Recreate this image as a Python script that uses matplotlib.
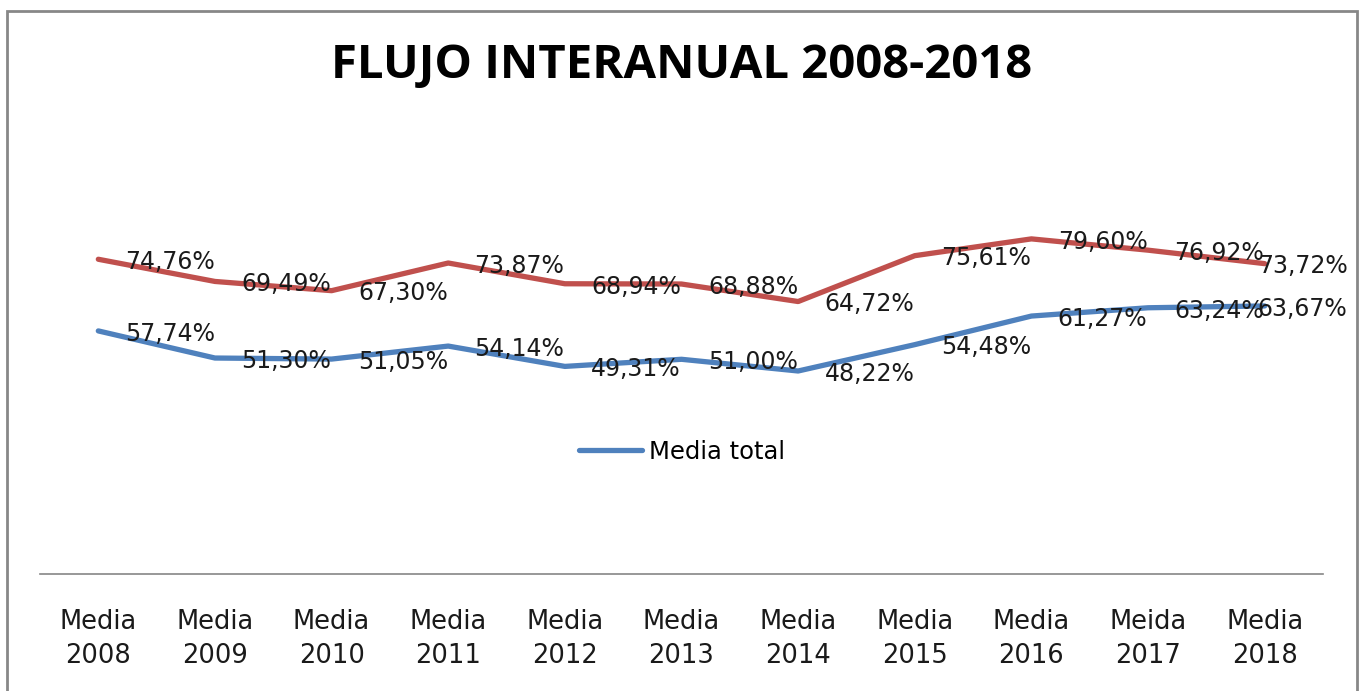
import numpy as np
from matplotlib import pyplot as plt
import matplotlib.patches as patches

# data
categorias = ["Media\n2008", "Media\n2009", "Media\n2010", "Media\n2011", "Media\n2012",
              "Media\n2013", "Media\n2014", "Media\n2015", "Media\n2016", "Meida\n2017",
              "Media\n2018"]
serie_roja = [74.76, 69.49, 67.30, 73.87, 68.94, 68.88, 64.72, 75.61, 79.60, 76.92, 73.72]
media_total = [57.74, 51.30, 51.05, 54.14, 49.31, 51.00, 48.22, 54.48, 61.27, 63.24, 63.67]

rojo = "#C0504D"
azul = "#4F81BD"

fig = plt.figure(figsize=(13.64, 6.91), dpi=100)
ax = fig.add_axes([40/1364, 1 - 574/691, (1323 - 40)/1364, (574 - 153)/691])

x = np.arange(len(categorias))
ax.plot(x, serie_roja, color=rojo, linewidth=3.8, solid_capstyle="round")
lin_azul, = ax.plot(x, media_total, color=azul, linewidth=3.8, solid_capstyle="round",
                    label="Media total")

def etiquetas(valores):
    for i, v in enumerate(valores):
        dx = 19 if i < len(valores) - 1 else -5
        txt = ("%.2f%%" % v).replace(".", ",")
        ax.annotate(txt, (x[i], v), xytext=(dx, -2), textcoords="offset points",
                    ha="left", va="center", fontsize=17, color="#1a1a1a",
                    annotation_clip=False)

etiquetas(serie_roja)
etiquetas(media_total)

ax.set_xlim(-0.5, len(categorias) - 0.5)
ax.set_ylim(0, 100)
ax.set_xticks(x)
ax.set_xticklabels(categorias, fontsize=18.5, linespacing=1.42, color="#1a1a1a")
ax.tick_params(axis="x", length=0, pad=25)
ax.set_yticks([])
for s in ["top", "left", "right"]:
    ax.spines[s].set_visible(False)
ax.spines["bottom"].set_color("#868686")
ax.spines["bottom"].set_linewidth(1.2)

ax.legend(handles=[lin_azul], loc="center", bbox_to_anchor=(0.5, 1 - 452/691),
          bbox_transform=fig.transFigure, frameon=False, fontsize=17.5,
          handlelength=2.6, handletextpad=0.3)

fig.text(0.5, 1 - 65/691, "FLUJO INTERANUAL 2008-2018", ha="center", va="center",
         fontsize=34, fontweight="bold", family="Open Sans")

# grey frame around the chart
borde = patches.Rectangle((7/1364, -0.02), (1357 - 7)/1364, 0.02 + 1 - 11/691,
                          transform=fig.transFigure, fill=False, edgecolor="#878787",
                          linewidth=2)
fig.patches.append(borde)

fig.savefig("out.png", dpi=100)
